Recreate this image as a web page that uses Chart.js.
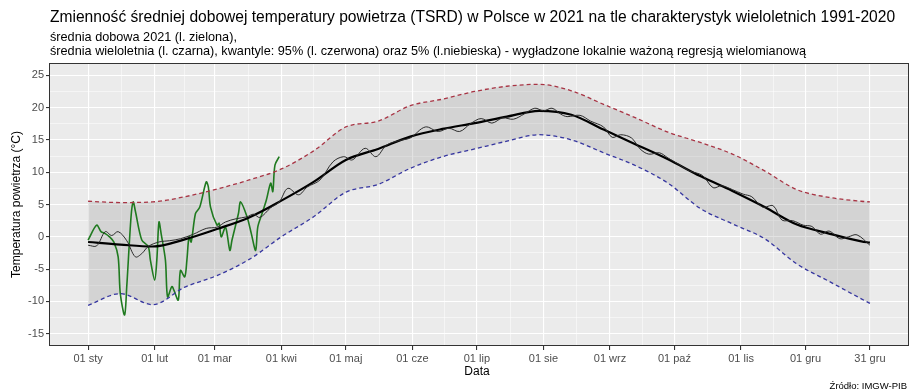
<!DOCTYPE html>
<html>
<head>
<meta charset="utf-8">
<script src="https://cdn.jsdelivr.net/npm/chart.js@4"></script>
<style>
  html, body { margin: 0; padding: 0; background: #fff; }
  canvas { display: block; }
</style>
</head>
<body>
<canvas id="chart" width="909" height="392"></canvas>
<script>
// osie
const monthDays = [0, 31, 59, 90, 120, 151, 181, 212, 243, 273, 304, 334, 364];
const monthLabels = ['01 sty', '01 lut', '01 mar', '01 kwi', '01 maj', '01 cze', '01 lip', '01 sie', '01 wrz', '01 paź', '01 lis', '01 gru', '31 gru'];
const yMajor = [-15, -10, -5, 0, 5, 10, 15, 20, 25];

// charakterystyki wieloletnie 1991-2020 (wygladzone)
const bandDays = [0, 15, 30, 45, 60, 75, 90, 105, 120, 135, 150, 165, 180, 195, 210, 225, 240, 255, 270, 285, 300, 315, 330, 345, 360, 364];
const q95 = [5.5, 5.3, 5.4, 6.2, 7.4, 8.8, 10.5, 13.3, 17.0, 17.9, 20.3, 21.3, 22.5, 23.3, 23.6, 22.6, 20.5, 18.4, 16.2, 14.6, 12.8, 10.2, 7.3, 6.1, 5.5, 5.4];
const q05 = [-10.6, -8.8, -10.5, -7.8, -6.0, -3.5, 0.0, 3.1, 6.9, 8.1, 10.6, 12.4, 13.6, 14.8, 15.8, 15.0, 13.0, 11.0, 8.3, 4.4, 2.0, -0.3, -4.2, -6.9, -9.6, -10.3];
const meanSmooth = [-0.8, -1.2, -1.5, -0.4, 1.2, 3.0, 5.6, 8.5, 11.9, 13.6, 15.5, 16.7, 17.6, 18.6, 19.5, 18.9, 16.6, 14.3, 12.0, 9.4, 7.1, 4.6, 1.9, 0.5, -0.7, -0.9];

// srednia wieloletnia dobowa (niewygladzona)
const rawDays = [0, 4, 8, 11, 14, 18, 22, 25, 28, 33, 38, 43, 49, 55, 60, 64, 69, 74, 77, 80, 85, 89, 93, 98, 102, 108, 114, 119, 123, 129, 134, 139, 145, 150, 157, 163, 168, 173, 178, 183, 188, 193, 198, 203, 208, 212, 216, 220, 223, 229, 234, 240, 244, 248, 253, 257, 261, 266, 270, 275, 280, 286, 291, 295, 300, 305, 309, 314, 319, 323, 328, 333, 337, 341, 345, 350, 354, 358, 364];
const meanDaily = [-1.3, -1.4, 0.8, 0.2, 0.8, -0.6, -3.1, -2.6, -1.5, -0.8, -0.6, -0.3, 0.4, 1.3, 1.5, 2.3, 2.8, 3.1, 3.5, 3.0, 4.5, 5.4, 7.5, 6.5, 7.7, 8.8, 11.6, 12.4, 11.9, 13.7, 12.4, 14.2, 14.9, 15.3, 17.0, 16.3, 16.8, 16.3, 17.5, 18.3, 17.6, 18.4, 18.2, 19.0, 19.9, 19.5, 19.9, 19.0, 18.6, 18.8, 17.9, 17.0, 15.4, 15.8, 15.3, 13.6, 12.8, 13.0, 12.2, 11.2, 10.2, 9.5, 7.6, 7.9, 7.3, 6.6, 6.2, 4.6, 4.8, 2.6, 2.5, 1.8, 1.6, 0.4, 0.9, -0.3, 0.0, 0.3, -1.3];

// srednia dobowa 2021
const days2021 = [0, 4, 6, 8, 10, 12, 14, 15, 17, 18, 20, 21, 22, 25, 28, 29, 31, 32, 33, 34, 36, 37, 39, 40, 42, 43, 45, 46, 47, 48, 50, 52, 55, 56, 57, 60, 61, 62, 64, 66, 67, 70, 71, 74, 76, 78, 79, 81, 83, 85, 86, 87, 89];
const temp2021 = [-0.5, 1.8, 0.8, 0.5, 0.0, -0.8, -3.1, -8.8, -12.1, -7.7, 3.1, 5.4, 4.0, -0.5, -1.5, -3.6, -6.7, -3.6, 2.3, 0.5, -3.6, -9.3, -7.7, -8.3, -9.8, -5.2, -6.2, -3.6, 0.0, -0.8, 3.6, 4.6, 8.5, 7.7, 4.6, 1.8, 2.1, 0.0, 1.5, -2.1, -0.5, 3.6, 5.4, 3.1, 0.5, -2.1, 1.5, 3.6, 5.7, 8.3, 7.0, 11.1, 12.4];

const FONT = '"Liberation Sans", Arial, sans-serif';

function pts(xs, ys) {
  return xs.map((x, i) => ({ x: x, y: ys[i] }));
}

// siatka: glowne + pomocnicze linie
const xTicks = [];
for (let i = 0; i < monthDays.length; i++) {
  xTicks.push(monthDays[i]);
  if (i < monthDays.length - 1) xTicks.push((monthDays[i] + monthDays[i + 1]) / 2);
}
const yTicks = [];
for (let v = -15; v <= 25; v += 2.5) yTicks.push(v);

const isMajorX = v => monthDays.indexOf(v) >= 0;
const isMajorY = v => yMajor.indexOf(v) >= 0;

const panelPlugin = {
  id: 'panel',
  beforeDraw(chart) {
    const a = chart.chartArea, c = chart.ctx;
    c.save();
    c.fillStyle = '#EBEBEB';
    c.fillRect(a.left, a.top, a.right - a.left, a.bottom - a.top);
    c.restore();
  },
  afterDraw(chart) {
    const a = chart.chartArea, c = chart.ctx;
    c.save();
    c.strokeStyle = '#333333';
    c.lineWidth = 1;
    c.strokeRect(a.left + 0.5, a.top + 0.5, a.right - a.left - 1, a.bottom - a.top - 1);

    // tytul
    const title = 'Zmienność średniej dobowej temperatury powietrza (TSRD) w Polsce w 2021 na tle charakterystyk wieloletnich 1991-2020';
    c.font = '16px ' + FONT;
    let tSize = 16 * 845 / c.measureText(title).width;
    c.fillStyle = '#000';
    c.textBaseline = 'alphabetic';
    c.textAlign = 'left';
    c.font = tSize.toFixed(2) + 'px ' + FONT;
    c.fillText(title, 50, 22);

    const sub1 = 'średnia dobowa 2021 (l. zielona),';
    const sub2 = 'średnia wieloletnia (l. czarna), kwantyle: 95% (l. czerwona) oraz 5% (l.niebieska) - wygładzone lokalnie ważoną regresją wielomianową';
    c.font = '11px ' + FONT;
    let sSize = 11 * 756 / c.measureText(sub2).width;
    c.font = sSize.toFixed(2) + 'px ' + FONT;
    c.fillText(sub1, 50, 41);
    c.fillText(sub2, 50, 55);

    // tytuly osi
    c.fillStyle = '#000';
    c.font = '12px ' + FONT;
    c.textAlign = 'center';
    c.textBaseline = 'middle';
    c.fillText('Data', (a.left + a.right) / 2 - 2, 372);
    c.save();
    c.translate(17, (a.top + a.bottom) / 2);
    c.rotate(-Math.PI / 2);
    c.fillText('Temperatura powietrza (°C)', 0, 0);
    c.restore();

    c.font = '9.5px ' + FONT;
    c.textAlign = 'right';
    c.fillText('Źródło: IMGW-PIB', 907, 386);
    c.restore();
  }
};

new Chart(document.getElementById('chart'), {
  type: 'line',
  data: {
    datasets: [
      {
        label: 'kwantyl 95%',
        data: pts(bandDays, q95),
        borderColor: '#A83444',
        borderWidth: 1.3,
        borderDash: [4, 3],
        backgroundColor: 'rgba(150,150,150,0.28)',
        fill: '+1',
        cubicInterpolationMode: 'monotone',
        pointRadius: 0
      },
      {
        label: 'kwantyl 5%',
        data: pts(bandDays, q05),
        borderColor: '#3636A0',
        borderWidth: 1.3,
        borderDash: [4, 3],
        fill: false,
        cubicInterpolationMode: 'monotone',
        pointRadius: 0
      },
      {
        label: 'srednia dobowa',
        data: pts(rawDays, meanDaily),
        borderColor: '#2B2B2B',
        borderWidth: 1.0,
        fill: false,
        tension: 0.35,
        pointRadius: 0
      },
      {
        label: 'srednia wygladzona',
        data: pts(bandDays, meanSmooth),
        borderColor: '#000000',
        borderWidth: 2.2,
        fill: false,
        cubicInterpolationMode: 'monotone',
        pointRadius: 0
      },
      {
        label: '2021',
        data: pts(days2021, temp2021),
        borderColor: '#1F7A1F',
        borderWidth: 1.6,
        fill: false,
        tension: 0.3,
        pointRadius: 0
      }
    ]
  },
  options: {
    responsive: false,
    animation: false,
    layout: { padding: { top: 63, right: 0, bottom: 0, left: 0 } },
    plugins: {
      legend: { display: false },
      tooltip: { enabled: false },
      filler: { drawTime: 'beforeDatasetsDraw' }
    },
    scales: {
      x: {
        type: 'linear',
        min: -18.2,
        max: 382.2,
        afterBuildTicks: s => { s.ticks = xTicks.map(v => ({ value: v })); },
        afterFit: s => { s.height = 46; },
        border: { display: false },
        grid: {
          color: '#FFFFFF',
          lineWidth: c => isMajorX(c.tick.value) ? 1.1 : 0.5,
          tickColor: c => isMajorX(c.tick.value) ? '#333333' : 'rgba(0,0,0,0)',
          tickLength: 4,
          drawTicks: true
        },
        ticks: {
          autoSkip: false,
          maxRotation: 0,
          padding: 2,
          color: '#4D4D4D',
          font: { family: FONT, size: 11 },
          callback: v => { const i = monthDays.indexOf(v); return i >= 0 ? monthLabels[i] : ''; }
        }
      },
      y: {
        type: 'linear',
        min: -16.9,
        max: 26.9,
        afterBuildTicks: s => { s.ticks = yTicks.map(v => ({ value: v })); },
        afterFit: s => { s.width = 49; },
        border: { display: false },
        grid: {
          color: '#FFFFFF',
          lineWidth: c => isMajorY(c.tick.value) ? 1.1 : 0.5,
          tickColor: c => isMajorY(c.tick.value) ? '#333333' : 'rgba(0,0,0,0)',
          tickLength: 3,
          drawTicks: true
        },
        ticks: {
          autoSkip: false,
          padding: 2,
          color: '#4D4D4D',
          font: { family: FONT, size: 11 },
          callback: v => isMajorY(v) ? String(v) : ''
        }
      }
    }
  },
  plugins: [panelPlugin]
});
</script>
</body>
</html>
